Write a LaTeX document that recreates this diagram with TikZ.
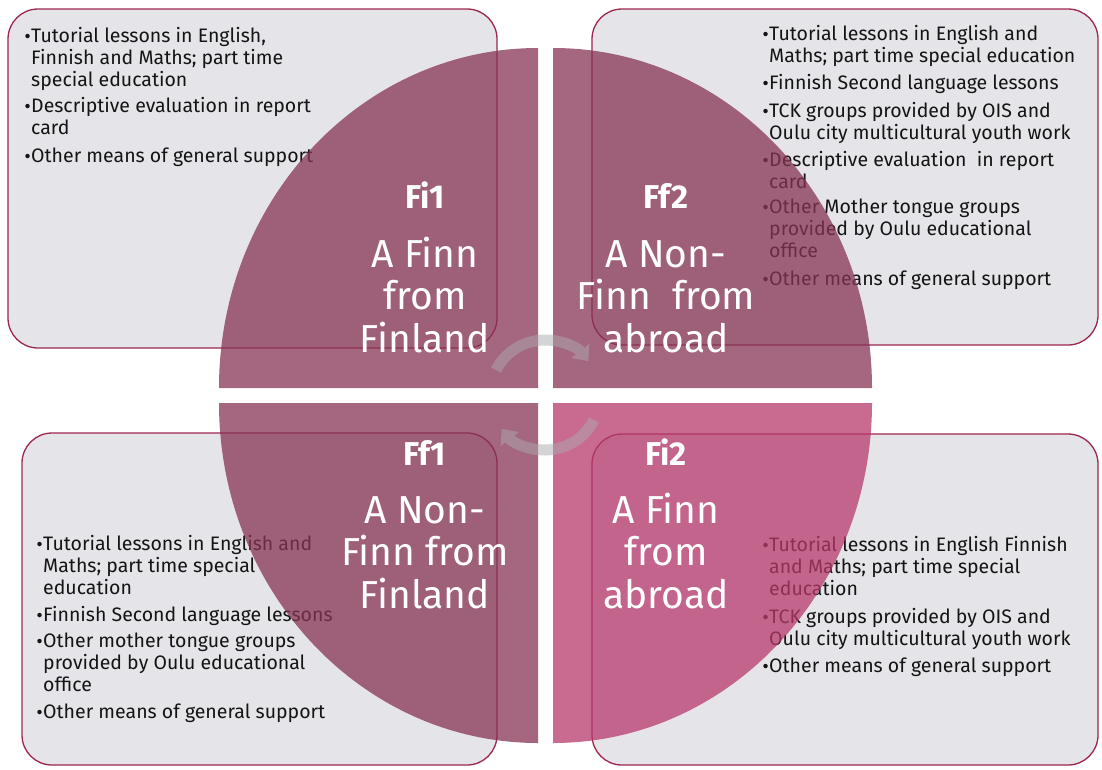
\documentclass[tikz,border=0pt]{standalone}
\usepackage{fontspec}
\setmainfont{Fira Sans}
\usetikzlibrary{arrows.meta}
\definecolor{wedgeA}{RGB}{135,51,84}
\definecolor{wedgeB}{RGB}{183,57,108}
\definecolor{boxfill}{RGB}{229,229,233}
\definecolor{boxline}{RGB}{158,38,78}
\definecolor{bodytext}{RGB}{20,20,20}
\definecolor{arrowgray}{RGB}{170,170,175}
\newcommand\bulletitem[4]{%
  \node[bulletdot] (#1) at ({#2+2.5},{-#3+6}) {};
  \foreach \ln [count=\k from 0] in {#4} {\node[bodytxt] (#1-\k) at ({#2+6},{-#3-22*\k}) {\ln};}
}
\begin{document}
\begin{tikzpicture}[x=1pt,y=1pt,
  infobox/.style={draw=boxline, line width=1.3pt, fill=boxfill, rounded corners=30pt},
  wedgeplain/.style={fill=wedgeA, fill opacity=0.75},
  wedgepink/.style={fill=wedgeB, fill opacity=0.75},
  bodytxt/.style={anchor=base west, inner sep=0pt, font=\fontsize{19.5}{22}\selectfont, text=bodytext},
  bulletdot/.style={circle, fill=bodytext, inner sep=0pt, minimum size=4.5pt},
  lbl/.style={anchor=base, inner sep=0pt, text=white, font=\fontsize{39}{42}\selectfont},
  lblhead/.style={anchor=base, inner sep=0pt, text=white, font=\bfseries\fontsize{33}{36}\selectfont},
  cyclearrow/.style={line width=11pt, draw=arrowgray, -{Triangle[width=22pt,length=13pt]}}
]
\useasboundingbox (0,0) rectangle (1102,-769);

% boxes
\draw[infobox] (8,-9) rectangle (497,-348);
\draw[infobox] (592,-9) rectangle (1098,-345);
\draw[infobox] (22,-433) rectangle (497,-765);
\draw[infobox] (592,-434) rectangle (1098,-765);

% texts
\bulletitem{tla}{25}{42}{{Tutorial lessons in English,},{Finnish and Maths; part time},{special education}}
\bulletitem{tlb}{25}{112}{{Descriptive evaluation in report},{card}}
\bulletitem{tlc}{25}{162}{{Other means of general support}}

\bulletitem{tra}{763}{40}{{Tutorial lessons in English and},{Maths; part time special education}}
\bulletitem{trb}{763}{89}{{Finnish Second language lessons}}
\bulletitem{trc}{763}{117}{{TCK groups provided by OIS and},{Oulu city multicultural youth work}}
\bulletitem{trd}{763}{166}{{Descriptive evaluation \ in report},{card}}
\bulletitem{tre}{763}{213}{{Other Mother tongue groups},{provided by Oulu educational},{office}}
\bulletitem{trf}{763}{285}{{Other means of general support}}

\bulletitem{bla}{37}{550}{{Tutorial lessons in English and},{Maths; part time special},{education}}
\bulletitem{blb}{37}{621}{{Finnish Second language lessons}}
\bulletitem{blc}{37}{647}{{Other mother tongue groups},{provided by Oulu educational},{office}}
\bulletitem{bld}{37}{718}{{Other means of general support}}

\bulletitem{bra}{763}{551}{{Tutorial lessons in English Finnish},{and Maths; part time special},{education}}
\bulletitem{brb}{763}{623}{{TCK groups provided by OIS and},{Oulu city multicultural youth work}}
\bulletitem{brc}{763}{672}{{Other means of general support}}

% wedges
\fill[wedgeplain] (538,-388) -- (219,-388) arc[start angle=180, end angle=90, x radius=319, y radius=340] -- cycle;
\fill[wedgeplain] (553,-388) -- (553,-48) arc[start angle=90, end angle=0, x radius=319, y radius=340] -- cycle;
\fill[wedgeplain] (538,-403) -- (219,-403) arc[start angle=180, end angle=270, x radius=319, y radius=340] -- cycle;
\fill[wedgepink] (553,-403) -- (872,-403) arc[start angle=0, end angle=-90, x radius=319, y radius=340] -- cycle;

% cycle arrows
\coordinate (hub) at (545,-395);
\begin{scope}[transparency group, opacity=0.5]
\draw[cyclearrow] (hub) ++(153:55) arc[start angle=153, end angle=38, radius=55];
\draw[cyclearrow] (hub) ++(-27:55) arc[start angle=-27, end angle=-142, radius=55];
\end{scope}

% labels
\node[lblhead] (fi1) at (425,-208) {Fi1};
\node[lbl] (fi1a) at (425,-267) {A Finn};
\node[lbl] (fi1b) at (425,-309) {from};
\node[lbl] (fi1c) at (425,-352) {Finland};

\node[lblhead] (ff2) at (666,-208) {Ff2};
\node[lbl] (ff2a) at (666,-267) {A Non-};
\node[lbl] (ff2b) at (666,-309) {Finn \ from};
\node[lbl] (ff2c) at (666,-352) {abroad};

\node[lblhead] (ff1) at (425,-465) {Ff1};
\node[lbl] (ff1a) at (425,-523) {A Non-};
\node[lbl] (ff1b) at (425,-565) {Finn from};
\node[lbl] (ff1c) at (425,-608) {Finland};

\node[lblhead] (fi2) at (666,-465) {Fi2};
\node[lbl] (fi2a) at (666,-523) {A Finn};
\node[lbl] (fi2b) at (666,-565) {from};
\node[lbl] (fi2c) at (666,-608) {abroad};
\end{tikzpicture}
\end{document}
